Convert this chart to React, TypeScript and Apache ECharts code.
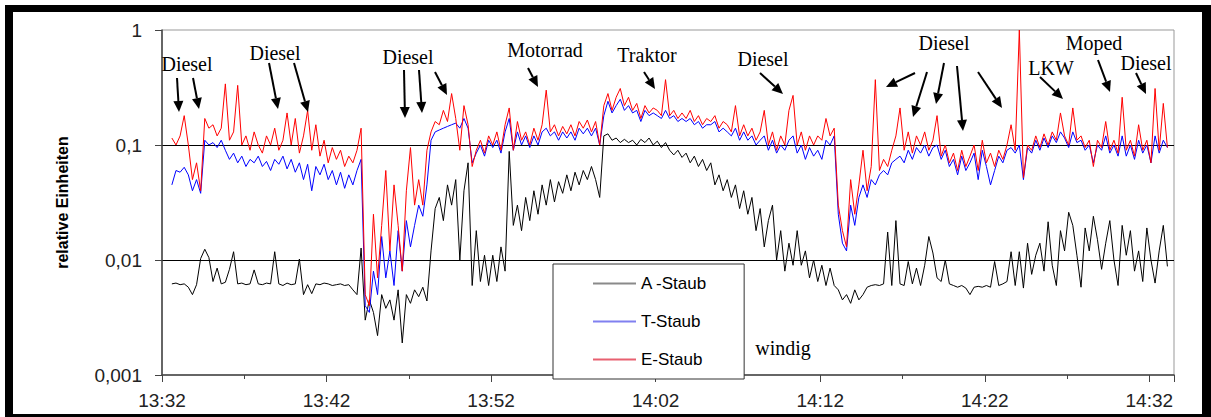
import React, { useEffect, useRef } from "react";
import * as echarts from "echarts";

// Sampling grid: minutes after 13:32
const START_MIN = 0.6;
const STEP_MIN = 0.25;
const CLOCK_START = 13 * 60 + 32;

const yTickLabels = ["0,001", "0,01", "0,1", "1"];

const seriesNames = ["A -Staub", "T-Staub", "E-Staub"];

const aStaub = [
  0.0062, 0.0063, 0.0061, 0.0062, 0.0058, 0.005, 0.0061, 0.0103, 0.0124, 0.0105,
  0.0065, 0.0085, 0.0062, 0.0064, 0.0083, 0.0118, 0.0062, 0.0063, 0.0061, 0.0062,
  0.0082, 0.0062, 0.0061, 0.0063, 0.0062, 0.0118, 0.0062, 0.006, 0.0063, 0.0061,
  0.0062, 0.0102, 0.005, 0.0061, 0.0051, 0.0062, 0.0061, 0.0063, 0.0062, 0.006,
  0.0061, 0.0062, 0.006, 0.0061, 0.0055, 0.005, 0.0127, 0.003, 0.0045, 0.0035,
  0.0022, 0.005, 0.0038, 0.0045, 0.003, 0.0055, 0.0019, 0.005, 0.0042, 0.0055,
  0.0048, 0.0058, 0.0044, 0.012, 0.028, 0.035, 0.022, 0.045, 0.03, 0.05,
  0.01, 0.04, 0.07, 0.006, 0.018, 0.0065, 0.011, 0.006, 0.011, 0.0065,
  0.013, 0.008, 0.088, 0.02, 0.03, 0.018, 0.035, 0.022, 0.04, 0.025,
  0.045, 0.03, 0.05, 0.032, 0.048, 0.038, 0.055, 0.04, 0.058, 0.045,
  0.06, 0.05, 0.065, 0.05, 0.035, 0.12, 0.125, 0.11, 0.115, 0.105,
  0.112, 0.105, 0.11, 0.1, 0.112, 0.105, 0.115, 0.1, 0.108, 0.095,
  0.105, 0.09, 0.082, 0.09, 0.078, 0.085, 0.07, 0.08, 0.065, 0.075,
  0.06, 0.07, 0.045, 0.055, 0.04, 0.05, 0.035, 0.045, 0.028, 0.04,
  0.025, 0.035, 0.018, 0.028, 0.013, 0.022, 0.03, 0.01, 0.018, 0.008,
  0.014, 0.009, 0.018, 0.009, 0.012, 0.007, 0.01, 0.0065, 0.009, 0.006,
  0.0085, 0.006, 0.0055, 0.0045, 0.005, 0.0042, 0.0055, 0.0045, 0.005, 0.0058,
  0.006, 0.0061, 0.006, 0.0062, 0.0175, 0.006, 0.022, 0.0062, 0.006, 0.0097,
  0.0062, 0.0085, 0.006, 0.009, 0.016, 0.0115, 0.007, 0.0065, 0.01, 0.0062,
  0.006, 0.0058, 0.006, 0.0057, 0.005, 0.0058, 0.0059, 0.0058, 0.006, 0.0058,
  0.0097, 0.006, 0.0062, 0.0065, 0.0118, 0.006, 0.0118, 0.0057, 0.014, 0.0075,
  0.011, 0.014, 0.008, 0.0215, 0.009, 0.006, 0.018, 0.012, 0.026, 0.02,
  0.011, 0.0058, 0.019, 0.012, 0.024, 0.015, 0.0083, 0.014, 0.022, 0.01,
  0.006, 0.02, 0.011, 0.018, 0.008, 0.012, 0.0065, 0.019, 0.01, 0.0063,
  0.012, 0.02, 0.0088,
];

const tStaub = [
  0.045, 0.06, 0.058, 0.064, 0.055, 0.04, 0.05, 0.038, 0.11, 0.1,
  0.105, 0.095, 0.11, 0.09, 0.075, 0.085, 0.07, 0.08, 0.065, 0.075,
  0.07, 0.08, 0.065, 0.072, 0.06, 0.075, 0.068, 0.08, 0.062, 0.075,
  0.058, 0.07, 0.05, 0.068, 0.04, 0.065, 0.055, 0.068, 0.05, 0.06,
  0.045, 0.058, 0.042, 0.055, 0.045, 0.06, 0.075, 0.004, 0.0035, 0.008,
  0.005, 0.016, 0.007, 0.012, 0.006, 0.018, 0.008, 0.022, 0.013, 0.02,
  0.03, 0.024, 0.045, 0.11, 0.13, 0.135, 0.14, 0.145, 0.15, 0.155,
  0.14, 0.17, 0.14, 0.07, 0.085, 0.1, 0.08, 0.11, 0.095, 0.11,
  0.085, 0.13, 0.17, 0.09, 0.13, 0.1, 0.12, 0.095, 0.12, 0.1,
  0.13, 0.14, 0.12, 0.13, 0.11, 0.13, 0.115, 0.13, 0.11, 0.14,
  0.125, 0.14, 0.12, 0.14, 0.1, 0.18, 0.24, 0.19, 0.22, 0.25,
  0.2, 0.22, 0.19, 0.2, 0.16, 0.2, 0.18, 0.19, 0.18, 0.17,
  0.2, 0.17, 0.18, 0.16, 0.17, 0.16, 0.17, 0.15, 0.16, 0.14,
  0.15, 0.15, 0.16, 0.13, 0.14, 0.13, 0.12, 0.14, 0.11, 0.13,
  0.11, 0.12, 0.1, 0.11, 0.12, 0.09, 0.11, 0.085, 0.1, 0.09,
  0.11, 0.12, 0.085, 0.1, 0.075, 0.095, 0.08, 0.09, 0.075, 0.11,
  0.1, 0.12, 0.025, 0.014, 0.012, 0.03, 0.02, 0.035, 0.045, 0.035,
  0.05, 0.045, 0.055, 0.06, 0.055, 0.07, 0.075, 0.08, 0.07, 0.09,
  0.075, 0.095, 0.085, 0.1, 0.08, 0.095, 0.1, 0.075, 0.09, 0.065,
  0.075, 0.055, 0.08, 0.06, 0.07, 0.085, 0.05, 0.09, 0.065, 0.045,
  0.06, 0.08, 0.07, 0.09, 0.095, 0.085, 0.1, 0.05, 0.095, 0.085,
  0.11, 0.09, 0.115, 0.095, 0.12, 0.105, 0.13, 0.115, 0.095, 0.13,
  0.105, 0.11, 0.09, 0.1, 0.07, 0.1, 0.09, 0.12, 0.085, 0.1,
  0.08, 0.12, 0.08, 0.1, 0.075, 0.11, 0.085, 0.1, 0.07, 0.12,
  0.085, 0.11, 0.095,
];

const eStaub = [
  0.115, 0.1, 0.12, 0.18, 0.1, 0.05, 0.07, 0.04, 0.17, 0.14,
  0.15, 0.12, 0.14, 0.34, 0.11, 0.13, 0.33, 0.1, 0.12, 0.09,
  0.13, 0.1, 0.085, 0.12, 0.1, 0.14, 0.09, 0.11, 0.19, 0.1,
  0.17, 0.085, 0.12, 0.2, 0.09, 0.15, 0.08, 0.11, 0.07, 0.095,
  0.075, 0.09, 0.065, 0.08, 0.07, 0.09, 0.14, 0.005, 0.004, 0.025,
  0.007, 0.02, 0.06, 0.012, 0.045, 0.02, 0.008, 0.04, 0.095, 0.03,
  0.05, 0.03, 0.09, 0.13, 0.16, 0.15, 0.2, 0.16, 0.28, 0.17,
  0.09, 0.22, 0.15, 0.065, 0.09, 0.11, 0.085, 0.12, 0.1, 0.13,
  0.09, 0.15, 0.21, 0.09, 0.16, 0.11, 0.13, 0.1, 0.14, 0.11,
  0.15, 0.3, 0.13, 0.15, 0.12, 0.145, 0.125, 0.15, 0.12, 0.16,
  0.14, 0.165, 0.13, 0.16, 0.1, 0.22, 0.28, 0.2, 0.26, 0.31,
  0.22, 0.26, 0.2, 0.23, 0.17, 0.22, 0.19, 0.21, 0.2, 0.18,
  0.37, 0.18, 0.2, 0.17, 0.19, 0.17, 0.2, 0.16, 0.18, 0.15,
  0.17, 0.16, 0.18, 0.14, 0.16, 0.15, 0.13, 0.22, 0.12, 0.15,
  0.12, 0.14, 0.11, 0.13, 0.2, 0.1, 0.13, 0.09, 0.12, 0.1,
  0.2, 0.27, 0.1, 0.13, 0.09, 0.12, 0.1, 0.12, 0.11, 0.17,
  0.12, 0.14, 0.03, 0.018, 0.013, 0.05, 0.025, 0.045, 0.09, 0.04,
  0.065, 0.37, 0.06, 0.075, 0.065, 0.09, 0.12, 0.21, 0.09, 0.13,
  0.085, 0.12, 0.1, 0.13, 0.09, 0.11, 0.18, 0.08, 0.1, 0.07,
  0.085, 0.06, 0.09, 0.065, 0.08, 0.1, 0.06, 0.11, 0.07, 0.085,
  0.065, 0.09, 0.075, 0.1, 0.15, 0.09, 1.0, 0.052, 0.1, 0.09,
  0.12, 0.095, 0.125, 0.1, 0.13, 0.11, 0.19, 0.12, 0.1, 0.21,
  0.11, 0.12, 0.095, 0.11, 0.065, 0.11, 0.095, 0.16, 0.09, 0.11,
  0.085, 0.26, 0.09, 0.11, 0.08, 0.15, 0.09, 0.11, 0.07, 0.31,
  0.09, 0.23, 0.095,
];

// Event annotations (pixel positions of the captions)
const captions = [
  { text: "Diesel", x: 187, y: 64 },
  { text: "Diesel", x: 275, y: 53 },
  { text: "Diesel", x: 408, y: 57 },
  { text: "Motorrad", x: 545, y: 50 },
  { text: "Traktor", x: 647, y: 55 },
  { text: "Diesel", x: 763, y: 59 },
  { text: "Diesel", x: 944, y: 43 },
  { text: "LKW", x: 1051, y: 68 },
  { text: "Moped", x: 1094, y: 43 },
  { text: "Diesel", x: 1146, y: 63 },
  { text: "windig", x: 783, y: 348 },
];

// Arrows: [fromX, fromY, tipX, tipY]
const arrows = [
  [177, 78, 179, 112],
  [193, 78, 199, 109],
  [269, 63, 278, 109],
  [294, 63, 308, 112],
  [404, 70, 405, 118],
  [419, 70, 422, 113],
  [435, 72, 447, 95],
  [528, 68, 538, 87],
  [644, 72, 655, 89],
  [760, 73, 783, 94],
  [915, 73, 886, 87],
  [927, 72, 913, 117],
  [944, 63, 936, 104],
  [957, 66, 963, 131],
  [978, 72, 1002, 108],
  [1040, 77, 1063, 99],
  [1098, 60, 1110, 92],
  [1136, 73, 1146, 94],
];

const toPairs = (vals: number[]) =>
  vals.map((v, i) => [START_MIN + i * STEP_MIN, v]);

const clockLabel = (m: number) => {
  if (Math.abs(m % 10) > 1e-6) return "";
  const total = CLOCK_START + m;
  const hh = Math.floor(total / 60);
  const mm = total % 60;
  return `${hh}:${String(mm).padStart(2, "0")}`;
};

function arrowElements(a: number[]) {
  const [x1, y1, x2, y2] = a;
  const dx = x2 - x1;
  const dy = y2 - y1;
  const len = Math.hypot(dx, dy);
  const ux = dx / len;
  const uy = dy / len;
  const headLen = 11;
  const headHalf = 5;
  const bx = x2 - ux * headLen;
  const by = y2 - uy * headLen;
  return [
    {
      type: "line",
      shape: { x1, y1, x2: bx, y2: by },
      style: { stroke: "#000", lineWidth: 2 },
      z: 50,
    },
    {
      type: "polygon",
      shape: {
        points: [
          [x2, y2],
          [bx - uy * headHalf, by + ux * headHalf],
          [bx + uy * headHalf, by - ux * headHalf],
        ],
      },
      style: { fill: "#000" },
      z: 50,
    },
  ];
}

const SANS = '"Liberation Sans", Arial, sans-serif';
const SERIF = '"Liberation Serif", "Times New Roman", serif';

export default function App() {
  const ref = useRef<HTMLDivElement>(null);

  useEffect(() => {
    if (!ref.current) return;
    const chart = echarts.init(ref.current, undefined, { renderer: "svg" });

    const frame = [
      { x: 5, y: 5, width: 1206, height: 7 },
      { x: 5, y: 5, width: 8, height: 412 },
      { x: 1202, y: 5, width: 9, height: 412 },
      { x: 5, y: 414, width: 1206, height: 3 },
    ].map((s) => ({
      type: "rect",
      shape: s,
      style: { fill: "#000" },
      z: 100,
    }));

    const texts = captions.map((c) => ({
      type: "text",
      x: c.x,
      y: c.y,
      z: 50,
      style: {
        text: c.text,
        fill: "#000",
        fontSize: 20,
        fontFamily: SERIF,
        align: "center",
        verticalAlign: "middle",
        textAlign: "center",
        textVerticalAlign: "middle",
      },
    }));

    const arrowEls = arrows.flatMap(arrowElements);

    const colors = ["#000000", "#0000ff", "#ff0000"];
    const legendColors = ["#8a8a8a", "#8080f0", "#e86070"];
    const values = [aStaub, tStaub, eStaub];

    chart.setOption({
      animation: false,
      backgroundColor: "#fff",
      grid: {
        left: 162,
        right: 37,
        top: 30,
        bottom: 42,
        show: true,
        borderColor: "#999",
        borderWidth: 1,
      },
      legend: {
        orient: "vertical",
        left: 553,
        top: 264,
        itemWidth: 43,
        itemHeight: 14,
        itemGap: 21,
        padding: [11, 37, 11, 39],
        borderColor: "#333",
        borderWidth: 1,
        backgroundColor: "#fff",
        selectedMode: false,
        z: 20,
        lineStyle: { width: 2 },
        textStyle: { fontSize: 17, color: "#000", fontFamily: SANS, width: 72 },
        data: seriesNames.map((n, i) => ({
          name: n,
          itemStyle: { opacity: 0 },
          lineStyle: { color: legendColors[i], width: 2 },
        })),
      },
      xAxis: {
        type: "value",
        min: 0,
        max: 61.5,
        interval: 10,
        axisLine: { show: true, lineStyle: { color: "#444", width: 1.5 } },
        axisTick: { show: true, length: 7, lineStyle: { color: "#444" } },
        minorTick: { show: true, splitNumber: 2, length: 4, lineStyle: { color: "#444" } },
        axisLabel: {
          formatter: clockLabel,
          fontSize: 19,
          fontFamily: SANS,
          color: "#222",
          margin: 16,
          showMaxLabel: false,
        },
        splitLine: { show: false },
      },
      yAxis: {
        type: "log",
        logBase: 10,
        min: 0.001,
        max: 1,
        axisLine: { show: true, lineStyle: { color: "#444", width: 1.5 } },
        axisTick: { show: true, length: 7, lineStyle: { color: "#444" } },
        axisLabel: {
          formatter: (v: number) => yTickLabels[Math.round(Math.log10(v)) + 3],
          fontSize: 19,
          fontFamily: SANS,
          color: "#222",
          margin: 20,
        },
        splitLine: {
          show: true,
          showMinLine: false,
          showMaxLine: false,
          lineStyle: { color: "#000", width: 1 },
        },
        name: "relative Einheiten",
        nameLocation: "middle",
        nameRotate: 90,
        nameGap: 92,
        nameTextStyle: { fontWeight: "bold", fontSize: 16, color: "#000", fontFamily: SANS },
      },
      series: values.map((vals, i) => ({
        name: seriesNames[i],
        type: "line",
        data: toPairs(vals),
        symbol: "none",
        silent: true,
        lineStyle: { color: colors[i], width: 1 },
        itemStyle: { color: colors[i] },
        z: 2 + i,
      })),
      graphic: [...frame, ...arrowEls, ...texts],
    });

    return () => chart.dispose();
  }, []);

  return (
    <div
      ref={ref}
      style={{ position: "fixed", left: 0, top: 0, width: 1211, height: 417 }}
    />
  );
}
